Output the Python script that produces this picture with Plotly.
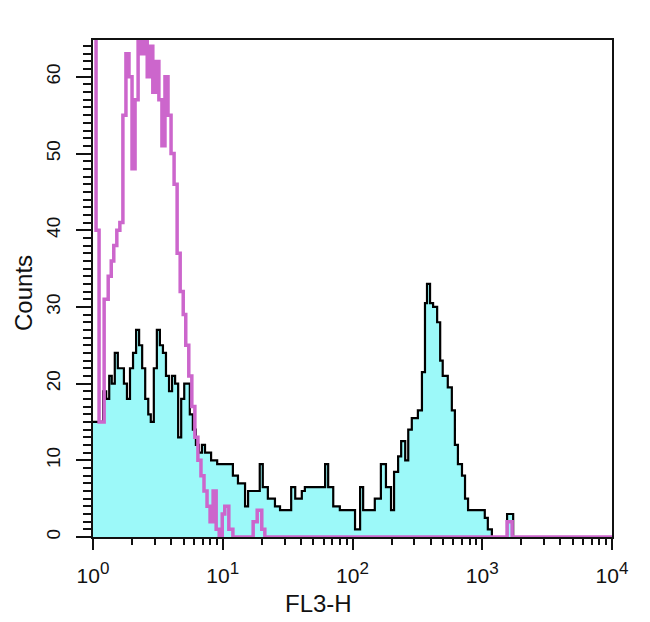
import numpy as np
import plotly.graph_objects as go

# Flow cytometry histogram data: 1024 channels over 4 decades (channel c -> 10**(c/256))
stained_edges = [0, 14, 20, 26, 32, 37, 43, 49, 55, 61, 67, 73, 79, 85, 91, 97, 103, 109, 114, 120,
                 126, 132, 138, 144, 150, 156, 162, 168, 174, 180, 185, 191, 197, 203, 209, 215, 221, 227, 233, 239,
                 245, 276, 286, 300, 306, 329, 335, 345, 359, 369, 391, 399, 412, 418, 458, 464, 474, 487, 517, 527,
                 533, 556, 568, 578, 588, 594, 602, 608, 616, 622, 629, 641, 649, 655, 659, 665, 671, 679, 685, 690,
                 700, 708, 714, 720, 728, 734, 740, 773, 779, 787, 817, 829, 1024]
stained_counts = [15, 15, 19, 18, 21, 20, 24, 22, 22, 20, 18, 22, 24, 27, 25, 22, 18, 16, 15, 22,
                  27, 25, 24, 21, 19, 21, 20, 13, 18, 20, 20, 16, 14, 12, 11, 12, 11, 11, 10, 10,
                  9.5, 8, 7, 4, 6, 9.5, 6.5, 5, 4, 3.5, 6.5, 5, 6, 6.5, 9.5, 6.5, 4, 3.5, 1, 6.5,
                  3.5, 5, 9.5, 6.5, 3.5, 8.5, 10.5, 12.5, 10, 14, 15.5, 16.5, 21.5, 30.5, 33, 30.5, 30, 28, 23, 21,
                  19.5, 16.5, 12, 9.5, 8, 5, 3.5, 2.5, 1, 0, 3, 0]

isotype_edges = [0, 6, 12, 22, 30, 36, 41, 47, 53, 59, 65, 71, 77, 83, 89, 95, 101, 107, 112, 118,
                 124, 130, 136, 142, 148, 154, 160, 166, 172, 178, 183, 189, 195, 201, 207, 213, 219, 225, 231, 237,
                 243, 249, 255, 260, 268, 276, 316, 324, 333, 339, 817, 827, 1024]
isotype_counts = [80, 40, 15, 31, 34, 36, 38, 40, 41, 55, 63, 60, 48, 57, 70, 63, 70, 60, 64, 58,
                  62, 57, 51, 60, 55, 50, 46, 37, 32, 29, 25, 21, 17, 13, 10, 8, 6, 4, 2, 6,
                  1, 0, 3, 4, 1, 0, 2, 3.5, 1, 0, 2, 0]

assert len(stained_edges) == len(stained_counts) + 1
assert len(isotype_edges) == len(isotype_counts) + 1

x_tick_vals = [1, 10, 100, 1000, 10000]
x_tick_text = ["10<sup><span style='font-size:17px'>%d</span></sup>" % d for d in range(5)]
y_tick_vals = [0, 10, 20, 30, 40, 50, 60]
x_title = "FL3-H"
y_title = "Counts"


def step_xy(edges, counts):
    x = 10 ** (np.array(edges, dtype=float) / 256.0)
    y = list(counts) + [counts[-1]]
    return x, y


sx, sy = step_xy(stained_edges, stained_counts)
ix, iy = step_xy(isotype_edges, isotype_counts)

fig = go.Figure()
fig.add_trace(go.Scatter(x=sx, y=sy, mode="lines", line=dict(shape="hv", color="#000000", width=2.2),
                         fill="tozeroy", fillcolor="#9CF9F9", showlegend=False))
fig.add_trace(go.Scatter(x=ix, y=iy, mode="lines", line=dict(shape="hv", color="#CC66CC", width=3.5),
                         showlegend=False))

minor_x = [k * 10 ** d for d in range(4) for k in range(2, 10)]
ink = "#111111"
FONT = "Liberation Sans, Arial, sans-serif"

# page has an 8px body margin: figure is placed at (8, 8)
fig.update_layout(
    width=642, height=614,
    margin=dict(l=85, r=38, t=32, b=85),
    paper_bgcolor="white", plot_bgcolor="white",
    font=dict(family=FONT, color=ink),
    xaxis=dict(type="log", range=[0, 4], tickmode="array", tickvals=x_tick_vals, ticktext=x_tick_text,
               ticks="outside", ticklen=11, tickwidth=2, tickcolor=ink, ticklabelstandoff=8,
               minor=dict(tickmode="array", tickvals=minor_x, ticks="outside", ticklen=6, tickwidth=2,
                          tickcolor=ink),
               showline=True, linecolor=ink, linewidth=2, mirror=True, showgrid=False, zeroline=False,
               tickfont=dict(size=21)),
    yaxis=dict(range=[0, 64.8], tickmode="array", tickvals=y_tick_vals, tickangle=-90,
               ticks="outside", ticklen=15, tickwidth=2, tickcolor=ink, ticklabelstandoff=8,
               minor=dict(dtick=1, ticks="outside", ticklen=8, tickwidth=2, tickcolor=ink),
               showline=True, linecolor=ink, linewidth=2, mirror=True, showgrid=False, zeroline=False,
               tickfont=dict(size=19)),
    annotations=[
        dict(text=x_title, xref="paper", yref="paper", x=0.434, y=0, yshift=-66,
             xanchor="center", yanchor="middle", showarrow=False, font=dict(size=24, family=FONT, color=ink)),
        dict(text=y_title, xref="paper", yref="paper", x=0, y=0.491, xshift=-69, textangle=-90,
             xanchor="center", yanchor="middle", showarrow=False, font=dict(size=24, family=FONT, color=ink)),
    ],
)

fig.write_html("out.html")
